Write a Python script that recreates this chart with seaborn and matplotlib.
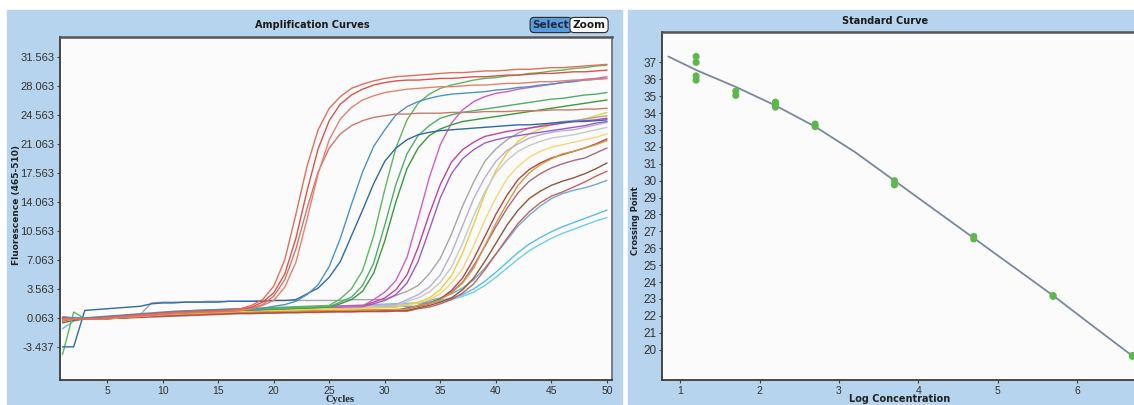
import matplotlib
matplotlib.use("Agg")
import matplotlib.pyplot as plt
from matplotlib import font_manager
from matplotlib.patches import Rectangle
import seaborn as sns
import pandas as pd

# ---------------- data: amplification curves (fluorescence per cycle) ----------------
cycles = list(range(1, 51))

r1 = [0.0, 0.0, 0.0, 0.0, 0.1, 0.2, 0.3, 0.4, 0.5, 0.6,
      0.7, 0.75, 0.8, 0.85, 0.9, 0.95, 1.2, 1.6, 2.3, 3.9,
      7.1, 12.6, 18.4, 22.8, 25.4, 26.8, 27.8, 28.3, 28.7, 29.0,
      29.2, 29.3, 29.4, 29.5, 29.6, 29.7, 29.7, 29.8, 29.9, 29.9,
      30.0, 30.1, 30.1, 30.2, 30.3, 30.3, 30.4, 30.5, 30.6, 30.7]
r2 = [0.1, 0.0, 0.0, 0.1, 0.2, 0.3, 0.4, 0.5, 0.6, 0.7,
      0.8, 0.85, 0.9, 0.95, 1.0, 1.05, 1.2, 1.4, 2.0, 3.1,
      5.4, 9.7, 15.4, 20.5, 23.9, 25.9, 27.0, 27.7, 28.2, 28.5,
      28.7, 28.8, 28.8, 28.9, 29.0, 29.0, 29.1, 29.2, 29.2, 29.3,
      29.4, 29.4, 29.5, 29.6, 29.6, 29.7, 29.8, 29.8, 29.9, 30.0]
r3 = [-0.2, 0.0, 0.0, 0.0, 0.1, 0.2, 0.3, 0.3, 0.4, 0.5,
      0.6, 0.7, 0.75, 0.8, 0.85, 0.9, 1.0, 1.2, 1.6, 2.2,
      3.8, 6.8, 12.0, 17.5, 21.6, 24.1, 25.5, 26.4, 26.9, 27.3,
      27.5, 27.7, 27.8, 27.9, 28.0, 28.0, 28.1, 28.2, 28.2, 28.3,
      28.4, 28.4, 28.5, 28.6, 28.6, 28.7, 28.8, 28.8, 28.9, 29.0]
r4 = [0.0, 0.0, 0.0, 0.0, 0.1, 0.2, 0.2, 0.3, 0.4, 0.5,
      0.6, 0.7, 0.75, 0.8, 0.85, 0.9, 1.0, 1.3, 1.7, 2.7,
      4.7, 8.4, 13.3, 17.7, 20.6, 22.3, 23.3, 23.9, 24.3, 24.5,
      24.7, 24.7, 24.8, 24.8, 24.8, 24.9, 24.9, 24.9, 25.0, 25.0,
      25.0, 25.1, 25.1, 25.1, 25.2, 25.2, 25.2, 25.3, 25.3, 25.4]
b1 = [0.2, 0.1, 0.1, 0.2, 0.3, 0.4, 0.5, 0.6, 0.7, 0.8,
      0.9, 0.95, 1.0, 1.05, 1.1, 1.15, 1.2, 1.2, 1.25, 1.5,
      1.7, 2.1, 2.9, 4.1, 6.3, 9.7, 13.8, 17.7, 20.8, 22.8,
      24.6, 25.6, 26.2, 26.6, 26.9, 27.1, 27.2, 27.3, 27.4, 27.6,
      27.7, 27.9, 28.0, 28.2, 28.3, 28.5, 28.6, 28.8, 28.9, 29.0]
b2 = [-3.4, -3.4, 1.0, 1.1, 1.2, 1.3, 1.4, 1.5, 1.8, 1.9,
      1.9, 2.0, 2.0, 2.0, 2.0, 2.1, 2.1, 2.1, 2.1, 2.2,
      2.2, 2.3, 3.0, 3.7, 5.0, 6.9, 10.0, 13.1, 16.3, 19.0,
      20.6, 21.6, 22.2, 22.5, 22.7, 22.8, 22.9, 23.0, 23.1, 23.2,
      23.3, 23.4, 23.4, 23.5, 23.6, 23.7, 23.8, 23.8, 23.9, 24.0]
g1 = [-4.3, 0.8, 0.0, 0.1, 0.2, 0.3, 0.4, 0.5, 0.6, 0.7,
      0.8, 0.9, 1.0, 1.05, 1.1, 1.15, 1.2, 1.25, 1.3, 1.35,
      1.4, 1.45, 1.5, 1.55, 1.6, 2.4, 3.6, 5.8, 10.0, 15.6,
      20.6, 24.0, 26.0, 27.1, 27.8, 28.2, 28.5, 28.8, 29.0, 29.1,
      29.3, 29.4, 29.6, 29.7, 29.9, 30.0, 30.2, 30.3, 30.5, 30.6]
g2 = [0.0, 0.0, 0.0, 0.1, 0.1, 0.2, 0.3, 0.4, 0.5, 0.6,
      0.7, 0.8, 0.85, 0.9, 0.95, 1.0, 1.05, 1.1, 1.15, 1.2,
      1.25, 1.3, 1.35, 1.4, 1.45, 2.0, 2.6, 4.0, 6.7, 11.3,
      16.2, 19.9, 22.1, 23.3, 24.2, 24.6, 24.9, 25.1, 25.3, 25.5,
      25.7, 25.9, 26.1, 26.3, 26.5, 26.6, 26.8, 27.0, 27.1, 27.3]
g3 = [-0.3, 0.0, 0.0, 0.0, 0.1, 0.2, 0.3, 0.35, 0.45, 0.55,
      0.65, 0.7, 0.8, 0.85, 0.9, 0.95, 1.0, 1.05, 1.1, 1.15,
      1.2, 1.25, 1.3, 1.35, 1.4, 1.8, 2.3, 3.3, 5.5, 9.4,
      14.1, 18.1, 20.6, 22.1, 22.9, 23.4, 23.8, 24.0, 24.2, 24.4,
      24.6, 24.8, 25.0, 25.2, 25.4, 25.6, 25.8, 26.0, 26.2, 26.4]
m1 = [0.0, 0.0, 0.0, 0.0, 0.1, 0.2, 0.3, 0.4, 0.5, 0.6,
      0.7, 0.8, 0.85, 0.9, 0.95, 1.0, 1.05, 1.1, 1.15, 1.2,
      1.25, 1.3, 1.35, 1.4, 1.45, 1.5, 1.5, 1.55, 2.3, 3.2,
      4.6, 7.4, 12.1, 17.0, 21.0, 23.6, 25.2, 26.2, 26.8, 27.2,
      27.4, 27.7, 27.9, 28.1, 28.3, 28.5, 28.7, 28.9, 29.0, 29.2]
m2 = [0.1, 0.0, 0.0, 0.1, 0.2, 0.3, 0.35, 0.45, 0.55, 0.65,
      0.75, 0.8, 0.9, 0.95, 1.0, 1.05, 1.1, 1.15, 1.2, 1.25,
      1.3, 1.35, 1.4, 1.45, 1.5, 1.5, 1.55, 1.55, 2.0, 2.5,
      3.5, 5.3, 8.6, 12.6, 16.2, 18.9, 20.4, 21.3, 22.0, 22.3,
      22.6, 22.8, 23.0, 23.2, 23.4, 23.6, 23.8, 23.9, 24.0, 24.2]
m3 = [0.0, 0.0, 0.0, 0.0, 0.1, 0.2, 0.3, 0.4, 0.5, 0.55,
      0.65, 0.75, 0.8, 0.85, 0.9, 0.95, 1.0, 1.05, 1.1, 1.15,
      1.2, 1.25, 1.3, 1.35, 1.4, 1.4, 1.45, 1.45, 1.8, 2.2,
      2.9, 4.3, 6.9, 10.7, 14.6, 17.5, 19.3, 20.4, 21.2, 21.6,
      21.9, 22.1, 22.3, 22.5, 22.7, 22.9, 23.1, 23.3, 23.6, 23.8]
gy1 = [0.0, 0.0, 0.0, 0.0, 0.1, 0.2, 0.3, 0.5, 1.9, 2.0,
       2.0, 2.0, 2.0, 2.1, 2.1, 2.1, 2.1, 2.1, 2.2, 2.2,
       2.2, 2.2, 2.2, 2.2, 2.2, 2.2, 2.3, 2.3, 2.3, 2.3,
       2.8, 3.3, 4.0, 5.4, 7.3, 10.2, 13.6, 16.5, 19.0, 20.5,
       21.6, 22.4, 23.0, 23.3, 23.6, 23.8, 23.9, 24.1, 24.3, 24.5]
gy2 = [0.1, 0.0, 0.0, 0.1, 0.2, 0.3, 0.35, 0.45, 0.55, 0.65,
       0.75, 0.8, 0.9, 0.95, 1.0, 1.05, 1.1, 1.15, 1.2, 1.25,
       1.3, 1.35, 1.4, 1.45, 1.5, 1.5, 1.55, 1.6, 1.6, 1.65,
       1.7, 2.3, 2.9, 3.8, 5.3, 7.9, 11.2, 14.5, 17.0, 19.0,
       20.3, 21.1, 21.8, 22.2, 22.5, 22.7, 22.8, 23.1, 23.4, 23.7]
gy3 = [0.0, 0.0, 0.0, 0.0, 0.1, 0.15, 0.25, 0.35, 0.45, 0.55,
       0.65, 0.75, 0.8, 0.85, 0.9, 0.95, 1.0, 1.05, 1.1, 1.15,
       1.2, 1.25, 1.3, 1.35, 1.4, 1.4, 1.45, 1.5, 1.5, 1.55,
       1.6, 2.1, 2.5, 3.2, 4.4, 6.2, 9.1, 12.4, 15.3, 17.6,
       19.1, 20.2, 20.9, 21.4, 21.8, 22.0, 22.2, 22.5, 22.8, 23.1]
y1 = [0.0, 0.0, 0.0, 0.0, 0.05, 0.15, 0.25, 0.3, 0.4, 0.5,
      0.6, 0.65, 0.7, 0.75, 0.8, 0.85, 0.9, 0.95, 1.0, 1.0,
      1.05, 1.1, 1.1, 1.15, 1.2, 1.2, 1.25, 1.3, 1.3, 1.35,
      1.35, 1.7, 2.0, 2.5, 3.5, 5.2, 7.9, 11.4, 15.0, 17.9,
      20.0, 21.4, 22.3, 22.9, 23.4, 23.7, 23.8, 24.1, 24.5, 24.9]
y2 = [0.1, 0.0, 0.0, 0.05, 0.1, 0.2, 0.3, 0.35, 0.45, 0.55,
      0.6, 0.7, 0.75, 0.8, 0.85, 0.9, 0.95, 1.0, 1.0, 1.05,
      1.1, 1.1, 1.15, 1.2, 1.2, 1.25, 1.3, 1.3, 1.35, 1.35,
      1.4, 1.7, 1.9, 2.3, 3.0, 4.3, 6.0, 8.8, 11.9, 14.6,
      16.9, 18.4, 19.5, 20.2, 20.7, 21.0, 21.3, 21.6, 21.9, 22.3]
o1 = [0.0, 0.0, 0.0, 0.0, 0.0, 0.1, 0.2, 0.25, 0.35, 0.45,
      0.5, 0.55, 0.6, 0.65, 0.7, 0.75, 0.8, 0.8, 0.85, 0.85,
      0.9, 0.9, 0.95, 0.95, 1.0, 1.0, 1.0, 1.05, 1.05, 1.1,
      1.1, 1.15, 1.6, 1.8, 2.3, 3.1, 4.3, 6.1, 8.8, 11.5,
      13.9, 16.1, 17.6, 18.6, 19.3, 19.9, 20.2, 20.6, 21.0, 21.5]
br1 = [-0.5, -0.2, 0.0, 0.0, 0.0, 0.1, 0.15, 0.25, 0.3, 0.4,
       0.45, 0.5, 0.55, 0.6, 0.65, 0.7, 0.7, 0.75, 0.75, 0.8,
       0.8, 0.85, 0.85, 0.9, 0.9, 0.9, 0.95, 0.95, 0.95, 1.0,
       1.0, 1.3, 1.5, 1.8, 2.4, 3.4, 4.9, 7.2, 9.9, 12.6,
       14.9, 16.8, 18.0, 18.8, 19.4, 19.8, 20.2, 20.6, 21.1, 21.7]
br2 = [0.0, 0.0, 0.0, 0.0, 0.05, 0.1, 0.2, 0.3, 0.4, 0.45,
       0.5, 0.55, 0.6, 0.65, 0.7, 0.75, 0.75, 0.8, 0.8, 0.85,
       0.85, 0.9, 0.9, 0.95, 0.95, 1.0, 1.0, 1.0, 1.05, 1.05,
       1.1, 1.1, 1.6, 1.9, 2.4, 3.2, 4.4, 6.4, 8.7, 11.1,
       13.3, 15.2, 16.6, 17.5, 18.2, 18.7, 19.1, 19.4, 20.0, 20.6]
br3 = [0.0, 0.0, 0.0, 0.0, 0.0, 0.05, 0.15, 0.2, 0.3, 0.35,
       0.4, 0.45, 0.5, 0.55, 0.6, 0.65, 0.65, 0.7, 0.7, 0.75,
       0.75, 0.8, 0.8, 0.85, 0.85, 0.9, 0.9, 0.9, 0.95, 0.95,
       1.0, 1.0, 1.3, 1.6, 2.0, 2.5, 3.5, 4.9, 6.9, 9.1,
       11.3, 13.1, 14.5, 15.4, 16.1, 16.6, 17.0, 17.5, 18.1, 18.8]
br4 = [0.2, 0.1, 0.0, 0.0, 0.0, 0.05, 0.1, 0.15, 0.2, 0.25,
       0.3, 0.35, 0.4, 0.45, 0.5, 0.55, 0.6, 0.6, 0.65, 0.65,
       0.7, 0.7, 0.75, 0.75, 0.8, 0.8, 0.8, 0.85, 0.85, 0.85,
       0.9, 0.9, 1.2, 1.4, 1.8, 2.3, 3.1, 4.2, 5.9, 7.8,
       9.7, 11.5, 12.9, 14.0, 14.8, 15.3, 15.9, 16.5, 17.2, 17.8]
lb1 = [0.0, -0.1, 0.0, 0.0, 0.1, 0.2, 0.3, 0.4, 0.5, 0.6,
       0.7, 0.8, 0.85, 0.9, 0.95, 1.0, 1.05, 1.1, 1.1, 1.15,
       1.2, 1.2, 1.25, 1.3, 1.3, 1.35, 1.4, 1.4, 1.45, 1.45,
       1.5, 1.5, 1.5, 2.2, 2.5, 3.0, 3.7, 4.7, 6.1, 7.8,
       9.5, 11.2, 12.5, 13.6, 14.5, 15.1, 15.5, 15.8, 16.2, 16.7]
c1 = [-1.2, -0.3, 0.0, 0.0, 0.1, 0.2, 0.3, 0.4, 0.5, 0.6,
      0.7, 0.8, 0.9, 0.95, 1.0, 1.05, 1.1, 1.15, 1.2, 1.25,
      1.3, 1.35, 1.4, 1.45, 1.5, 1.55, 1.6, 1.65, 1.7, 1.75,
      1.8, 1.85, 1.9, 2.0, 2.2, 2.5, 2.9, 3.6, 4.5, 5.6,
      6.8, 8.0, 9.0, 9.8, 10.5, 11.1, 11.6, 12.1, 12.6, 13.1]
c2 = [0.1, 0.0, 0.0, 0.0, 0.1, 0.2, 0.3, 0.35, 0.45, 0.55,
      0.65, 0.75, 0.85, 0.9, 0.95, 1.0, 1.05, 1.1, 1.15, 1.2,
      1.25, 1.3, 1.35, 1.4, 1.45, 1.5, 1.55, 1.6, 1.65, 1.7,
      1.75, 1.8, 1.85, 1.9, 2.1, 2.3, 2.7, 3.2, 4.0, 5.0,
      6.1, 7.2, 8.2, 9.0, 9.7, 10.3, 10.8, 11.3, 11.8, 12.2]

curve_values = {
    "C1": c1, "C2": c2, "LB1": lb1, "Br4": br4, "Br3": br3, "Br2": br2, "Br1": br1,
    "O1": o1, "Y2": y2, "Y1": y1, "Gy3": gy3, "Gy2": gy2, "Gy1": gy1,
    "M3": m3, "M2": m2, "M1": m1, "G3": g3, "G2": g2, "G1": g1,
    "B2": b2, "B1": b1, "R4": r4, "R3": r3, "R2": r2, "R1": r1,
}
curve_colors = {
    "R1": "#e0705c", "R2": "#d9534f", "R3": "#e8806e", "R4": "#c97b6b",
    "B1": "#4d93c4", "B2": "#2e6aa8",
    "G1": "#5cb85c", "G2": "#4caf6a", "G3": "#3c9a3c",
    "M1": "#d65cc0", "M2": "#c8409e", "M3": "#9a5cc8",
    "Gy1": "#a6a6a6", "Gy2": "#b8aed8", "Gy3": "#c8c8cc",
    "Y1": "#e8d040", "Y2": "#f0d878", "O1": "#d9963c",
    "Br1": "#b04848", "Br2": "#a86a80", "Br3": "#8c5a3c", "Br4": "#c86060",
    "LB1": "#6aaed6", "C1": "#56c0e0", "C2": "#70cce8",
}

amp_yticks = [-3.437, 0.063, 3.563, 7.063, 10.563, 14.063, 17.563, 21.063, 24.563, 28.063, 31.563]
amp_xticks = [5, 10, 15, 20, 25, 30, 35, 40, 45, 50]

# ---------------- data: standard curve ----------------
std_x = [1.2, 1.2, 1.2, 1.2, 1.7, 1.7, 2.2, 2.2, 2.2, 2.7, 2.7,
         3.7, 3.7, 4.7, 4.7, 5.7, 5.7, 6.7, 6.7]
std_y = [37.35, 37.0, 36.2, 35.95, 35.3, 35.05, 34.65, 34.5, 34.35, 33.35, 33.2,
         30.0, 29.75, 26.7, 26.55, 23.2, 23.15, 19.65, 19.6]
fit_x = [0.85, 1.2, 1.7, 2.2, 2.7, 3.2, 3.7, 4.2, 4.7, 5.2, 5.7, 6.2, 6.75]
fit_y = [37.35, 36.55, 35.55, 34.45, 33.2, 31.7, 30.0, 28.3, 26.6, 24.9, 23.2, 21.4, 19.45]
std_yticks = list(range(20, 38))
std_xticks = [1, 2, 3, 4, 5, 6]

# ---------------- style ----------------
sns.set_theme(style="white")
avail = {f.name for f in font_manager.fontManager.ttflist}
TICKFONT = "Liberation Sans Narrow" if "Liberation Sans Narrow" in avail else "Liberation Sans"
NARROWOK = TICKFONT == "Liberation Sans Narrow"
plt.rcParams["font.family"] = ["DejaVu Sans"]

W, H = 1134, 405
BLUE = "#b6d4ee"
fig = plt.figure(figsize=(W / 100, H / 100), dpi=100)
fig.patch.set_facecolor("white")
fig.patches.append(Rectangle((7 / W, 0), (622 - 7) / W, (H - 10) / H,
                             transform=fig.transFigure, color=BLUE, zorder=-10))
fig.patches.append(Rectangle((628 / W, 0), (W - 628) / W, (H - 10) / H,
                             transform=fig.transFigure, color=BLUE, zorder=-10))

ax1 = fig.add_axes([60 / W, 25 / H, 552 / W, 343 / H], zorder=2)
ax2 = fig.add_axes([662 / W, 25 / H, 472 / W, 348 / H], zorder=2)

# ---- amplification curves ----
rows = []
for name, vals in curve_values.items():
    for c, v in zip(cycles, vals):
        rows.append((name, c, v))
df = pd.DataFrame(rows, columns=["curve", "cycle", "fluor"])
sns.lineplot(data=df, x="cycle", y="fluor", hue="curve", palette=curve_colors,
             hue_order=list(curve_values.keys()), estimator=None, sort=False,
             legend=False, linewidth=1.0, ax=ax1)
ax1.set_xlim(0.77, 50.45)
ax1.set_ylim(-7.4, 34.0)
ax1.set_xticks(amp_xticks)
ax1.set_yticks(amp_yticks)
ax1.set_yticklabels([f"{v:.3f}" for v in amp_yticks])
ax1.set_xlabel("Cycles", fontsize=7.5, fontweight="bold", family="Liberation Serif",
               color="#222222")
ax1.set_ylabel("Fluorescence (465-510)", fontsize=6.5, fontweight="bold",
               color="#222222")
ax1.xaxis.set_label_coords((340 - 60) / 552, -(399.5 - 380) / 343)
ax1.xaxis.label.set_va("center")
ax1.yaxis.set_label_coords((16 - 60) / 552, (380 - 205) / 343)
ax1.yaxis.label.set_va("center")

# ---- standard curve ----
sns.lineplot(x=fit_x, y=fit_y, color="#7888a0", linewidth=1.3, ax=ax2)
sns.scatterplot(x=std_x, y=std_y, color="#5cb84a", s=26, edgecolor="none",
                zorder=3, ax=ax2)
ax2.set_xlim(0.77, 6.72)
ax2.set_ylim(18.2, 38.8)
ax2.set_xticks(std_xticks)
ax2.set_yticks(std_yticks)
ax2.set_xlabel("Log Concentration", fontsize=7, fontweight="bold", color="#222222")
ax2.set_ylabel("Crossing Point", fontsize=6, fontweight="bold", color="#222222")
ax2.xaxis.set_label_coords((900 - 662) / 472, -(399.5 - 380) / 348)
ax2.xaxis.label.set_va("center")
ax2.yaxis.set_label_coords((636 - 662) / 472, (380 - 221) / 348)
ax2.yaxis.label.set_va("center")

for ax in (ax1, ax2):
    ax.set_facecolor("#fbfbfb")
    ax.tick_params(axis="both", which="major", length=2.5, width=0.8, direction="out",
                   color="#444444", labelcolor="#333333", pad=1.5,
                   bottom=True, left=True)
    ax.spines["left"].set_color("#3a3a3a")
    ax.spines["left"].set_linewidth(1.3)
    ax.spines["bottom"].set_color("#3a3a3a")
    ax.spines["bottom"].set_linewidth(1.3)
    ax.spines["top"].set_color("#555555")
    ax.spines["top"].set_linewidth(1.8)
    ax.spines["right"].set_color("#6a6a6a")
    ax.spines["right"].set_linewidth(1.2)
ax2.spines["right"].set_visible(False)

ax1.tick_params(axis="x", labelsize=8.5 if NARROWOK else 7.5)
ax1.tick_params(axis="y", labelsize=9 if NARROWOK else 8)
ax2.tick_params(axis="x", labelsize=8.5 if NARROWOK else 7.5)
ax2.tick_params(axis="y", labelsize=9.5 if NARROWOK else 8.5)
for ax in (ax1, ax2):
    for lab in ax.get_xticklabels() + ax.get_yticklabels():
        lab.set_family(TICKFONT)

# ---- titles and buttons ----
fig.text(312 / W, 1 - 25 / H, "Amplification Curves", ha="center", va="center",
         fontsize=7, fontweight="bold", color="#1a1a1a")
fig.text(885 / W, 1 - 21 / H, "Standard Curve", ha="center", va="center",
         fontsize=7, fontweight="bold", color="#1a1a1a")
fig.text(551 / W, 1 - 25 / H, "Select", ha="center", va="center", fontsize=7.5,
         fontweight="bold", color="#1a2a40",
         bbox=dict(boxstyle="round,pad=0.25,rounding_size=0.4", fc="#5d9ad8",
                   ec="#2a2a2a", lw=0.8))
fig.text(589 / W, 1 - 25 / H, "Zoom", ha="center", va="center", fontsize=7.5,
         fontweight="bold", color="#1a1a1a",
         bbox=dict(boxstyle="round,pad=0.25,rounding_size=0.4", fc="white",
                   ec="#2a2a2a", lw=0.8))

fig.savefig("out.png", dpi=100)
